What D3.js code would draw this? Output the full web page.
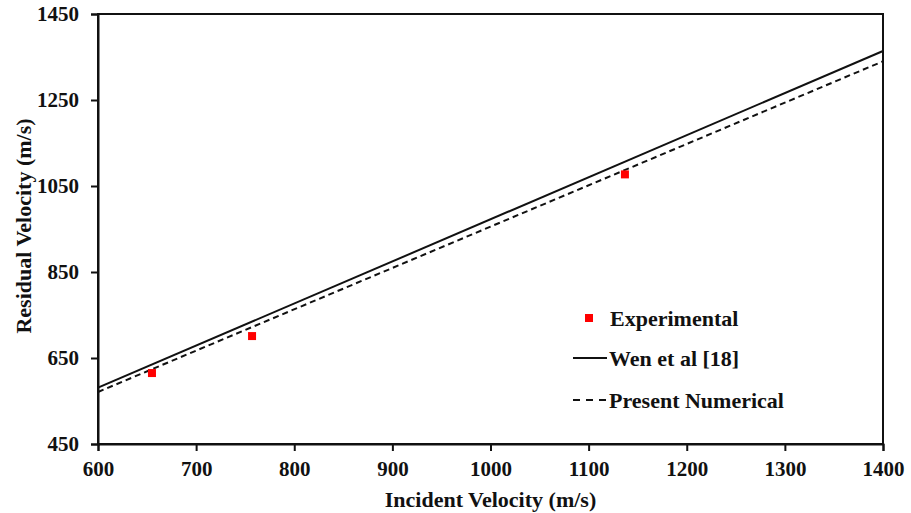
<!DOCTYPE html>
<html><head><meta charset="utf-8">
<script src="https://cdn.jsdelivr.net/npm/d3@7"></script>
<style>body{margin:0;background:#fff;} text{font-family:"Liberation Serif","Times New Roman",serif;font-weight:bold;fill:#111;}</style>
</head><body><svg id="c" width="911" height="513"></svg>
<script>
const xTicks = [600,700,800,900,1000,1100,1200,1300,1400];
const yTicks = [450,650,850,1050,1250,1450];
const expX = [655, 757, 1137];
const expY = [615, 701, 1077];
const wenX = [600, 1400];
const wenY = [581, 1364];
const numX = [600, 1400];
const numY = [571, 1340];

const svg = d3.select("#c");
const m = {l:98, r:883, t:14, b:444};
const x = d3.scaleLinear().domain([600,1400]).range([m.l,m.r]);
const y = d3.scaleLinear().domain([450,1450]).range([m.b,m.t]);

svg.append("rect").attr("x",m.l).attr("y",m.t).attr("width",m.r-m.l).attr("height",m.b-m.t)
  .attr("fill","none").attr("stroke","#111").attr("stroke-width",2);

const xa = svg.append("g").attr("transform",`translate(0,${m.b})`)
  .call(d3.axisBottom(x).tickValues(xTicks).tickSize(7).tickPadding(10).tickFormat(d3.format("d")));
const ya = svg.append("g").attr("transform",`translate(${m.l},0)`)
  .call(d3.axisLeft(y).tickValues(yTicks).tickSize(7).tickPadding(12).tickFormat(d3.format("d")));
[xa,ya].forEach(a=>{
  a.select(".domain").attr("stroke","#111").attr("stroke-width",2);
  a.selectAll(".tick line").attr("stroke","#111").attr("stroke-width",2);
  a.selectAll("text").style("font-size","21px").attr("fill","#111");
});

const line = d3.line().x(d=>x(d[0])).y(d=>y(d[1]));
svg.append("path").datum(wenX.map((v,i)=>[v,wenY[i]])).attr("d",line)
  .attr("fill","none").attr("stroke","#111").attr("stroke-width",2);
svg.append("path").datum(numX.map((v,i)=>[v,numY[i]])).attr("d",line)
  .attr("fill","none").attr("stroke","#111").attr("stroke-width",2).attr("stroke-dasharray","6,4");

svg.selectAll("rect.pt").data(expX.map((v,i)=>[v,expY[i]])).enter().append("rect").attr("class","pt")
  .attr("x",d=>x(d[0])-4).attr("y",d=>y(d[1])-4).attr("width",8).attr("height",8).attr("fill","#ff0000");

svg.append("text").attr("x",(m.l+m.r)/2).attr("y",507).attr("text-anchor","middle")
  .style("font-size","22px").text("Incident Velocity (m/s)");
svg.append("text").attr("transform",`translate(31,226) rotate(-90)`).attr("text-anchor","middle")
  .style("font-size","22px").text("Residual Velocity (m/s)");

const lg = svg.append("g");
lg.append("rect").attr("x",585).attr("y",314).attr("width",8).attr("height",8).attr("fill","#ff0000");
lg.append("text").attr("x",610).attr("y",326).style("font-size","22px").text("Experimental");
lg.append("line").attr("x1",573).attr("x2",607).attr("y1",358).attr("y2",358).attr("stroke","#111").attr("stroke-width",2);
lg.append("text").attr("x",609).attr("y",366).style("font-size","22px").text("Wen et al [18]");
lg.append("line").attr("x1",573).attr("x2",607).attr("y1",400).attr("y2",400).attr("stroke","#111").attr("stroke-width",2).attr("stroke-dasharray","7,6");
lg.append("text").attr("x",609).attr("y",408).style("font-size","22px").text("Present Numerical");
</script></body></html>
